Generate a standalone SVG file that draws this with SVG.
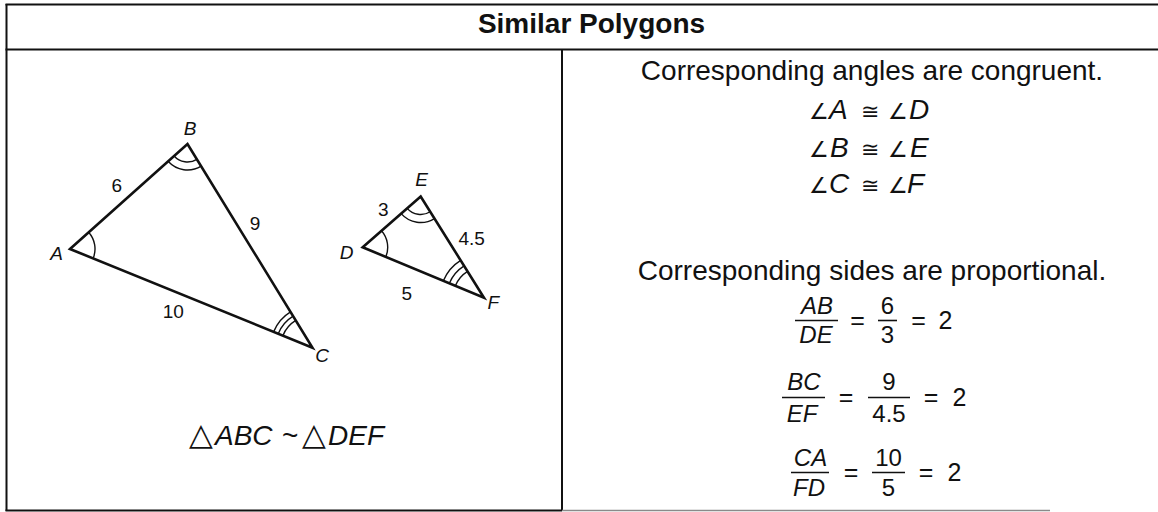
<svg xmlns="http://www.w3.org/2000/svg" width="1158" height="512" viewBox="0 0 1158 512">
<style>
.frame{stroke:#111;stroke-width:2;fill:none}
.side{stroke:#111;stroke-width:2.6;fill:none;stroke-linejoin:miter}
.arc{stroke:#111;stroke-width:1.4;fill:none}
.bar{stroke:#111;stroke-width:1.6}
text{font-family:"Liberation Sans",Arial,sans-serif;fill:#111}
.it{font-style:italic}
.lbl{font-size:19px;text-anchor:middle}
.body{font-size:28px;text-anchor:middle}
.sym{font-family:"DejaVu Sans",sans-serif;font-size:22px;font-style:normal}
.tri{font-family:"DejaVu Sans",sans-serif;font-size:31px;font-style:normal}
.fr{font-size:24px;text-anchor:middle}
.eq{font-size:25px;text-anchor:middle}
</style>
<rect width="1158" height="512" fill="#fff"/>
<g id="frame">
<line class="frame" x1="5.5" y1="4.5" x2="1158" y2="4.5"/>
<line class="frame" x1="5.5" y1="49.5" x2="1158" y2="49.5"/>
<line class="frame" x1="6.5" y1="4" x2="6.5" y2="511"/>
<line class="frame" x1="562" y1="49" x2="562" y2="511"/>
<line class="frame" x1="5.5" y1="510.5" x2="562" y2="510.5"/>
<line x1="562" y1="510.5" x2="1050" y2="510.5" stroke="#8a8a8a" stroke-width="1.6"/>
</g>
<g id="title">
<text x="591.5" y="33" font-size="28" font-weight="bold" text-anchor="middle">Similar Polygons</text>
</g>
<g id="triangle-ABC">
<polygon class="side" points="70,249 187.5,144 312.5,347.7"/>
<path class="arc" d="M88.64,232.34 A25,25 0 0 1 93.16,258.43"/>
<path class="arc" d="M196.91,159.34 A18,18 0 0 1 174.08,155.99"/>
<path class="arc" d="M201.1,166.16 A26,26 0 0 1 168.11,161.32"/>
<path class="arc" d="M282.86,335.64 A32,32 0 0 1 295.76,320.43"/>
<path class="arc" d="M278.23,333.75 A37,37 0 0 1 293.15,316.16"/>
<path class="arc" d="M273.6,331.87 A42,42 0 0 1 290.53,311.9"/>
<text class="lbl it" x="190" y="135">B</text>
<text class="lbl it" x="56.7" y="260">A</text>
<text class="lbl it" x="322" y="362">C</text>
<text class="lbl" x="116.7" y="192">6</text>
<text class="lbl" x="255" y="230">9</text>
<text class="lbl" x="173.3" y="318">10</text>
</g>
<g id="triangle-DEF">
<polygon class="side" points="362.7,247.3 420.7,196.5 484,297.7"/>
<path class="arc" d="M381.51,230.83 A25,25 0 0 1 385.78,256.89"/>
<path class="arc" d="M430.24,211.76 A18,18 0 0 1 407.16,208.36"/>
<path class="arc" d="M434.49,218.54 A26,26 0 0 1 401.14,213.63"/>
<path class="arc" d="M455.38,285.81 A31,31 0 0 1 467.56,271.42"/>
<path class="arc" d="M449.38,283.31 A37.5,37.5 0 0 1 464.12,265.91"/>
<path class="arc" d="M443.38,280.82 A44,44 0 0 1 460.67,260.41"/>
<text class="lbl it" x="421.7" y="185.5">E</text>
<text class="lbl it" x="346.7" y="258.5">D</text>
<text class="lbl it" x="493.3" y="308.5">F</text>
<text class="lbl" x="383.3" y="216">3</text>
<text class="lbl" x="471.7" y="245">4.5</text>
<text class="lbl" x="406.7" y="300">5</text>
</g>
<g id="similarity">
<text y="445" font-size="28"><tspan class="tri" x="189">△</tspan><tspan class="it" x="215">ABC</tspan><tspan x="282">~</tspan><tspan class="tri" x="302">△</tspan><tspan class="it" x="328">DEF</tspan></text>
</g>
<g id="angles">
<text class="body" x="872" y="80">Corresponding angles are congruent.</text>
<text y="119" font-size="28"><tspan class="sym" x="809">∠</tspan><tspan class="it" x="829">A</tspan><tspan class="sym" x="861">≅</tspan><tspan class="sym" x="888">∠</tspan><tspan class="it" x="909">D</tspan></text>
<text y="157" font-size="28"><tspan class="sym" x="809">∠</tspan><tspan class="it" x="830">B</tspan><tspan class="sym" x="861">≅</tspan><tspan class="sym" x="888">∠</tspan><tspan class="it" x="910">E</tspan></text>
<text y="193" font-size="28"><tspan class="sym" x="809">∠</tspan><tspan class="it" x="829">C</tspan><tspan class="sym" x="861">≅</tspan><tspan class="sym" x="888">∠</tspan><tspan class="it" x="907">F</tspan></text>
</g>
<g id="sides">
<text class="body" x="872" y="280">Corresponding sides are proportional.</text>
<g id="ratio-AB-DE">
<text class="fr it" x="817" y="314">AB</text>
<line class="bar" x1="795" y1="320.5" x2="838" y2="320.5"/>
<text class="fr it" x="816" y="343">DE</text>
<text class="eq" x="857.5" y="329">=</text>
<text class="fr" x="887.5" y="314">6</text>
<line class="bar" x1="878" y1="320.5" x2="897" y2="320.5"/>
<text class="fr" x="887.5" y="343">3</text>
<text class="eq" x="918.5" y="329">=</text>
<text class="eq" x="945.5" y="329">2</text>
</g>
<g id="ratio-BC-EF">
<text class="fr it" x="804" y="390">BC</text>
<line class="bar" x1="782" y1="397.5" x2="825" y2="397.5"/>
<text class="fr it" x="802" y="421.5">EF</text>
<text class="eq" x="846" y="406">=</text>
<text class="fr" x="889" y="390">9</text>
<line class="bar" x1="868" y1="397.5" x2="910" y2="397.5"/>
<text class="fr" x="889" y="421.5">4.5</text>
<text class="eq" x="931" y="406">=</text>
<text class="eq" x="959.5" y="406">2</text>
</g>
<g id="ratio-CA-FD">
<text class="fr it" x="810.5" y="466">CA</text>
<line class="bar" x1="791" y1="472.5" x2="829" y2="472.5"/>
<text class="fr it" x="809" y="496">FD</text>
<text class="eq" x="851" y="481">=</text>
<text class="fr" x="888.5" y="466">10</text>
<line class="bar" x1="872" y1="472.5" x2="905" y2="472.5"/>
<text class="fr" x="888.5" y="496">5</text>
<text class="eq" x="926" y="481">=</text>
<text class="eq" x="954.5" y="481">2</text>
</g>
</g>
</svg>
